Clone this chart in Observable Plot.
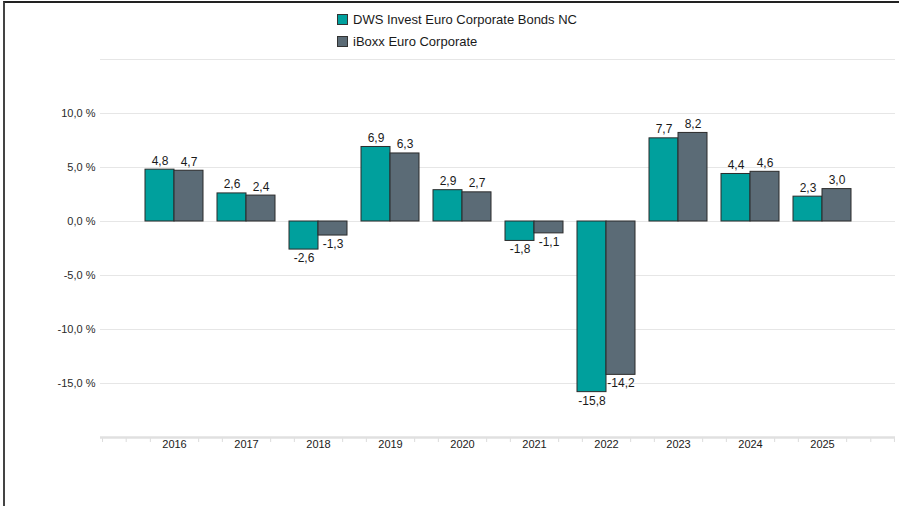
<!DOCTYPE html>
<html>
<head>
<meta charset="utf-8">
<script src="https://cdn.jsdelivr.net/npm/d3@7"></script>
<script src="https://cdn.jsdelivr.net/npm/@observablehq/plot@0.6"></script>
<style>
  html, body { margin: 0; padding: 0; background: #fff; }
  body { width: 899px; height: 506px; position: relative; overflow: hidden; font-family: "Liberation Sans", Arial, sans-serif; }
  #frame { position: absolute; left: 3px; top: 1px; width: 900px; height: 510px; border-left: 2px solid #444; border-top: 2px solid #222; box-sizing: border-box; }
  #legend { position: absolute; left: 0; top: 0; width: 899px; height: 50px; }
  .item { position: absolute; left: 337px; font-size: 13px; color: #1a1a1a; line-height: 15px; white-space: nowrap; }
  .sw { display: inline-block; width: 9px; height: 9px; border: 1px solid #333; vertical-align: -1px; margin-right: 5px; }
  #chart { position: absolute; left: 0; top: 50px; }
</style>
</head>
<body>
<div id="frame"></div>
<div id="legend"></div>
<div id="chart"></div>
<script>
const years = ["2016","2017","2018","2019","2020","2021","2022","2023","2024","2025"];
const seriesNames = ["DWS Invest Euro Corporate Bonds NC", "iBoxx Euro Corporate"];
const fundValues = [4.8, 2.6, -2.6, 6.9, 2.9, -1.8, -15.8, 7.7, 4.4, 2.3];
const indexValues = [4.7, 2.4, -1.3, 6.3, 2.7, -1.1, -14.2, 8.2, 4.6, 3.0];
const colors = ["#00a09d", "#5b6b76"];
const yTicks = [-15, -10, -5, 0, 5, 10];
const gridTicks = [-15, -10, -5, 0, 5, 10, 15];

const fund = years.map((y, i) => ({year: y, series: seriesNames[0], value: fundValues[i]}));
const index = years.map((y, i) => ({year: y, series: seriesNames[1], value: indexValues[i]}));
const fmt = v => v.toFixed(1).replace(".", ",");

// legend
const legend = document.getElementById("legend");
seriesNames.forEach((s, i) => {
  const d = document.createElement("div");
  d.className = "item";
  d.style.top = (12 + i * 22) + "px";
  d.innerHTML = `<span class="sw" style="background:${colors[i]}"></span>${s}`;
  legend.appendChild(d);
});

const half = 29;   // half of the band width in px
const third = 24.15; // a third of the band step in px (minor axis ticks)
const labelStyle = {fontSize: 12, fill: "#1a1a1a"};
const tickStyle = {y1: -20, y2: -20, insetBottom: -5, stroke: "#dcdcdc", strokeWidth: 1};

const plot = Plot.plot({
  width: 899,
  height: 456,
  marginLeft: 100,
  marginRight: 4,
  marginTop: 9,
  marginBottom: 69,
  style: {fontFamily: "Liberation Sans, Arial, sans-serif", fontSize: "11px", color: "#333", background: "transparent"},
  x: {domain: years, paddingInner: 0.2, paddingOuter: 0.5875, label: null},
  y: {domain: [-20, 15], label: null},
  marks: [
    Plot.ruleY(gridTicks, {stroke: "#e6e6e6", strokeWidth: 1}),
    Plot.ruleX(years, {x: d => d, dx: -third, ...tickStyle}),
    Plot.ruleX(years, {x: d => d, dx: third, ...tickStyle}),
    Plot.ruleX([years[0]], {x: d => d, dx: -2 * third, ...tickStyle}),
    Plot.ruleX([years[0]], {x: d => d, dx: -3 * third + 0.5, ...tickStyle}),
    Plot.ruleX([years[years.length - 1]], {x: d => d, dx: 2 * third, ...tickStyle}),
    Plot.ruleX([years[years.length - 1]], {x: d => d, dx: 3 * third - 0.5, ...tickStyle}),
    Plot.ruleY([-20], {stroke: "#e0e0e0", strokeWidth: 2.5}),
    Plot.axisY(yTicks, {tickFormat: d => fmt(d) + " %", tickSize: 0, tickPadding: 5, fontSize: 11, fill: "#2a2a2a", label: null}),
    Plot.axisX({anchor: "bottom", tickSize: 0, tickPadding: 3, fontSize: 11, fill: "#1a1a1a", label: null}),
    Plot.barY(fund, {x: "year", y: "value", insetRight: half, fill: colors[0], stroke: "#2b2b2b", strokeWidth: 1}),
    Plot.barY(index, {x: "year", y: "value", insetLeft: half, fill: colors[1], stroke: "#2b2b2b", strokeWidth: 1}),
    Plot.text(fund.filter(d => d.value >= 0), {x: "year", y: "value", text: d => fmt(d.value), dx: -half / 2, lineAnchor: "bottom", dy: -5, ...labelStyle}),
    Plot.text(fund.filter(d => d.value < 0), {x: "year", y: "value", text: d => fmt(d.value), dx: -half / 2, lineAnchor: "top", dy: 4, ...labelStyle}),
    Plot.text(index.filter(d => d.value >= 0), {x: "year", y: "value", text: d => fmt(d.value), dx: half / 2, lineAnchor: "bottom", dy: -5, ...labelStyle}),
    Plot.text(index.filter(d => d.value < 0), {x: "year", y: "value", text: d => fmt(d.value), dx: half / 2, lineAnchor: "top", dy: 4, ...labelStyle})
  ]
});
document.getElementById("chart").appendChild(plot);
</script>
</body>
</html>
